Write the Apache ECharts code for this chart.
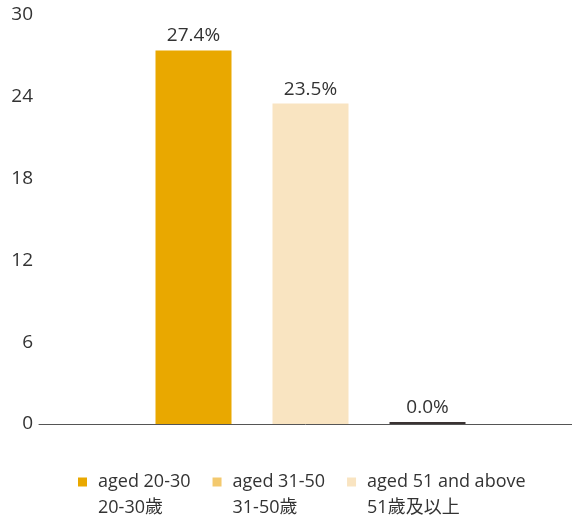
<!DOCTYPE html>
<html>
<head>
<meta charset="utf-8">
<script src="https://cdn.jsdelivr.net/npm/echarts@6/dist/echarts.min.js"></script>
<style>
  html, body { margin: 0; padding: 0; background: #fff; }
  #chart { width: 572px; height: 518px; }
</style>
</head>
<body>
<div id="chart"></div>
<script>
// Age groups (English / Chinese) and their shares in percent
const categories = ['aged 20-30\n20-30歲', 'aged 31-50\n31-50歲', 'aged 51 and above\n51歲及以上'];
const values = [27.4, 23.5, 0.0];
const yTicks = [0, 6, 12, 18, 24, 30];

const barColors = ['#E9A800', '#F9E4C1', '#3A3333'];
const legendColors = ['#E9A800', '#F3C96E', '#F9E4C1'];
const FONT = '"Open Sans", "Noto Sans CJK TC", sans-serif';
const TEXT = '#333333';

const chart = echarts.init(document.getElementById('chart'));

// one series per age group, each sitting on its own category band
const series = categories.map((name, i) => ({
  name: name,
  type: 'bar',
  xAxisIndex: 1,
  yAxisIndex: 1,
  stack: 'share',
  barWidth: 76,
  barMinHeight: i === 2 ? 2 : 0,
  data: categories.map((_, j) => (j === i ? values[i] : '-')),
  itemStyle: { color: barColors[i] },
  label: {
    show: true,
    position: 'top',
    distance: 5,
    color: TEXT,
    fontFamily: FONT,
    fontSize: 19,
    formatter: p => p.value.toFixed(1) + '%'
  },
  emphasis: { disabled: true }
}));

chart.setOption({
  animation: false,
  textStyle: { fontFamily: FONT },
  grid: [
    { left: 39, right: 0, top: 15, bottom: 94 },
    { left: 135, width: 351, top: 15, bottom: 94 }
  ],
  xAxis: [
    {
      gridIndex: 0, type: 'value', min: 0, max: 1,
      axisLine: { show: true, lineStyle: { color: '#555', width: 1 } },
      axisTick: { show: false }, axisLabel: { show: false }, splitLine: { show: false }
    },
    {
      gridIndex: 1, type: 'category', data: categories,
      axisLine: { show: false }, axisTick: { show: false },
      axisLabel: { show: false }, splitLine: { show: false }
    }
  ],
  yAxis: [
    {
      gridIndex: 0, type: 'value',
      min: yTicks[0], max: yTicks[yTicks.length - 1], interval: yTicks[1] - yTicks[0],
      axisLine: { show: false }, axisTick: { show: false }, splitLine: { show: false },
      axisLabel: { color: TEXT, fontSize: 19, fontFamily: FONT, margin: 6, padding: [6, 0, 0, 0] }
    },
    {
      gridIndex: 1, type: 'value',
      min: yTicks[0], max: yTicks[yTicks.length - 1],
      show: false, splitLine: { show: false }
    }
  ],
  legend: {
    left: 78,
    top: 443,
    padding: 0,
    itemGap: 22,
    itemWidth: 9,
    itemHeight: 9,
    icon: 'rect',
    selectedMode: false,
    data: categories.map((name, i) => ({ name: name, itemStyle: { color: legendColors[i] } })),
    // leading blank line keeps the first text line level with the swatch
    formatter: name => '\n' + name,
    textStyle: {
      color: TEXT,
      fontFamily: FONT,
      fontSize: 18,
      lineHeight: 26,
      padding: [0, 0, 0, 6]
    }
  },
  series: series
});
</script>
</body>
</html>
